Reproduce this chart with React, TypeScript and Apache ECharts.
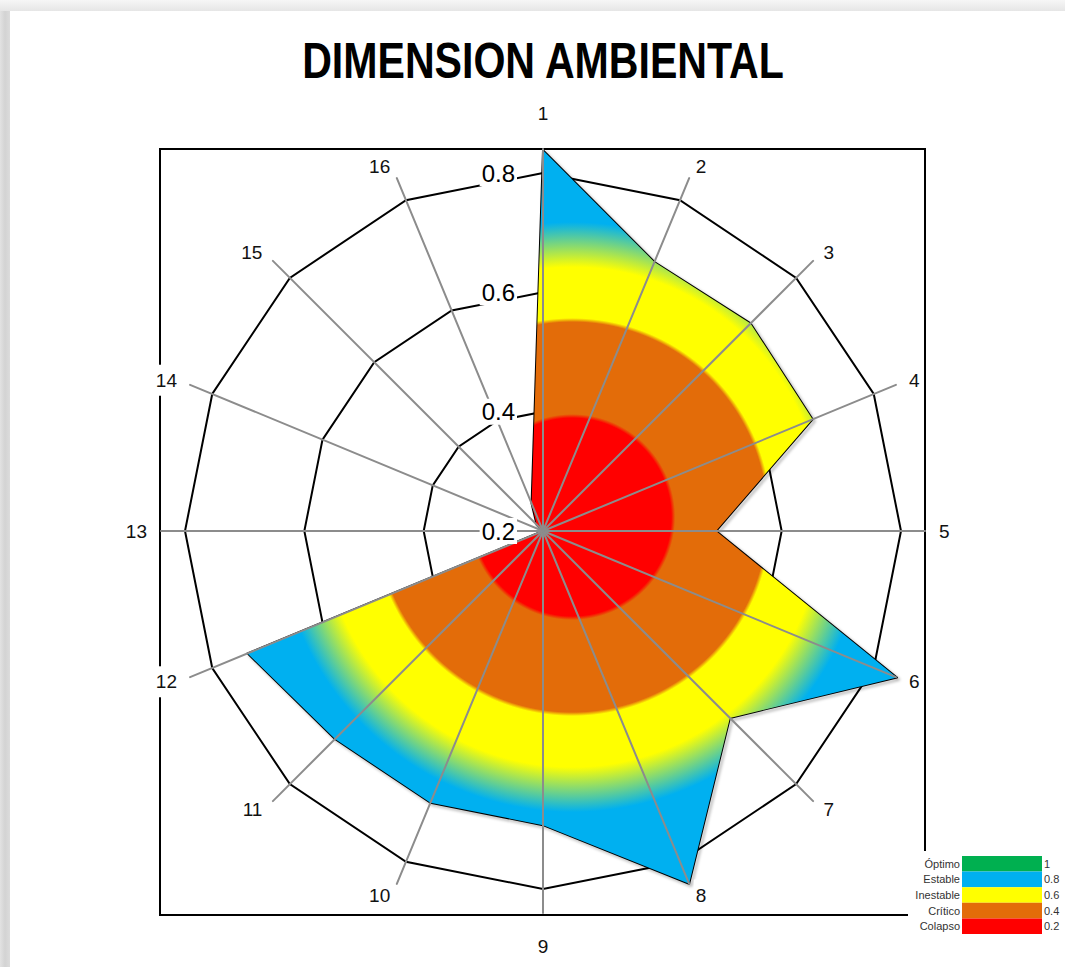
import React, { useEffect, useRef } from 'react';
import * as echarts from 'echarts';

// ---------- data ----------
const TITLE = 'DIMENSION AMBIENTAL';
const categories = ['1', '2', '3', '4', '5', '6', '7', '8', '9', '10', '11', '12', '13', '14', '15', '16'];
const values = [0.838, 0.688, 0.692, 0.689, 0.49, 0.842, 0.643, 0.84, 0.693, 0.693, 0.693, 0.736, 0.2, 0.2, 0.215, 0.25];
const axisMin = 0.2;
const axisMax = 0.8;
const axisStep = 0.2;
const tickLabels = ['0.2', '0.4', '0.6', '0.8'];
const legendLabels = ['Óptimo', 'Estable', 'Inestable', 'Crítico', 'Colapso'];
const legendValues = ['1', '0.8', '0.6', '0.4', '0.2'];
const legendColors = ['#00B050', '#00B0F0', '#FFFF00', '#E36C09', '#FF0000'];

// ---------- layout ----------
const W = 1065;
const H = 967;
const CX = 543;
const CY = 531;
const R = 358; // radius of 0.8 ring
const R_SPOKE = 382;
const TITLE_WIDTH = 483;

const App: React.FC = () => {
  const ref = useRef<HTMLDivElement>(null);

  useEffect(() => {
    if (!ref.current) return;
    const chart = echarts.init(ref.current, undefined, { renderer: 'svg' });
    const N = categories.length;
    // ECharts places indicators counter-clockwise; reorder so that they run clockwise
    const order = categories.map((_, i) => (N - i) % N);

    // gradient centre = centre of the polygon's bounding box
    const pts = values.map((v, k) => {
      const a = (k * 2 * Math.PI) / N;
      const r = ((v - axisMin) / (axisMax - axisMin)) * R;
      return [CX + r * Math.sin(a), CY - r * Math.cos(a)];
    });
    const xs = pts.map((p) => p[0]);
    const ys = pts.map((p) => p[1]);
    const gx = (Math.min(...xs) + Math.max(...xs)) / 2;
    const gy = (Math.min(...ys) + Math.max(...ys)) / 2;
    const GR = 400;
    const stop = (px: number, color: string) => ({ offset: px / GR, color });
    const fill = {
      type: 'radial',
      x: gx,
      y: gy,
      r: GR,
      global: true,
      colorStops: [
        stop(0, legendColors[4]),
        stop(99, legendColors[4]),
        stop(103, legendColors[3]),
        stop(195, legendColors[3]),
        stop(199, legendColors[2]),
        stop(250, legendColors[2]),
        stop(295, legendColors[1]),
        stop(GR, legendColors[1]),
      ],
    };

    const titleFont = "bold 50px 'Liberation Sans'";
    const titleRect = echarts.format.getTextRect
      ? (echarts.format as any).getTextRect(TITLE, titleFont)
      : null;
    const titleW = titleRect && titleRect.width ? titleRect.width : 592;
    const titleScale = TITLE_WIDTH / titleW;

    const off = { show: false };
    const legendTop = 856;
    const rowH = 15.6;
    const graphic: any[] = [
      {
        type: 'rect', z: -10, silent: true,
        shape: { x: 0, y: 0, width: 10, height: H },
        style: { fill: new echarts.graphic.LinearGradient(0, 0, 1, 0, [
          { offset: 0, color: '#e2e2e2' }, { offset: 0.5, color: '#d3d3d3' }, { offset: 1, color: '#dcdcdc' }]) },
      },
      {
        type: 'rect', z: -9, silent: true,
        shape: { x: 0, y: 0, width: W, height: 11 },
        style: { fill: new echarts.graphic.LinearGradient(0, 0, 0, 1, [
          { offset: 0, color: '#f6f6f6' }, { offset: 1, color: '#e6e6e6' }]) },
      },
      {
        type: 'rect', z: -8, silent: true,
        shape: { x: 10, y: 11, width: W - 10, height: H - 11 },
        style: { fill: '#ffffff' },
      },
      {
        type: 'rect', z: 1, silent: true,
        shape: { x: 160, y: 149, width: 765, height: 766 },
        style: { fill: 'none', stroke: '#000', lineWidth: 2 },
      },
      {
        type: 'text', z: 10, x: 543, y: 61, scaleX: titleScale, scaleY: 1,
        style: {
          text: TITLE, fill: '#000', fontSize: 50, fontWeight: 'bold',
          fontFamily: 'Liberation Sans',
          align: 'center', verticalAlign: 'middle',
        },
      },
      {
        type: 'rect', z: 20, silent: true,
        shape: { x: 908, y: 851, width: W - 908, height: 90 },
        style: { fill: '#fff' },
      },
    ];
    legendLabels.forEach((lab, i) => {
      const y = legendTop + i * rowH;
      graphic.push({
        type: 'rect', z: 21,
        shape: { x: 962, y, width: 80, height: rowH },
        style: { fill: legendColors[i] },
      });
      graphic.push({
        type: 'text', z: 21, x: 960, y: y + rowH / 2,
        style: { text: lab, fill: '#333', fontSize: 11, fontFamily: 'Liberation Sans', align: 'right', verticalAlign: 'middle' },
      });
      graphic.push({
        type: 'text', z: 21, x: 1044, y: y + rowH / 2,
        style: { text: legendValues[i], fill: '#333', fontSize: 11, fontFamily: 'Liberation Sans', align: 'left', verticalAlign: 'middle' },
      });
    });

    const option: any = {
      animation: false,
      backgroundColor: '#fff',
      graphic,
      radar: [
        // rings + data coordinate system
        {
          z: 0,
          center: [CX, CY],
          radius: R,
          startAngle: 90,
          shape: 'polygon',
          splitNumber: Math.round((axisMax - axisMin) / axisStep),
          indicator: order.map((k) => ({ name: categories[k], min: axisMin, max: axisMax })),
          axisName: off,
          axisLine: off,
          axisTick: off,
          axisLabel: off,
          splitArea: off,
          splitLine: { show: true, lineStyle: { color: '#000', width: 2 } },
        },
        // spokes + names, drawn above the filled area
        {
          z: 5,
          center: [CX, CY],
          radius: R_SPOKE,
          startAngle: 90,
          shape: 'polygon',
          splitNumber: 1,
          indicator: order.map((k, i) => ({
            name: categories[k],
            min: axisMin,
            max: axisMax,
            nameGap: i === 0 ? 20 : i === N / 2 ? 18 : 12,
          })),
          axisName: {
            show: true, color: '#111', fontSize: 19, fontFamily: 'Liberation Sans',
            backgroundColor: '#fff', padding: [6, 2],
          },
          axisNameGap: 12,
          axisLine: { show: true, lineStyle: { color: '#8c8c8c', width: 2 } },
          axisTick: off,
          axisLabel: off,
          splitArea: off,
          splitLine: off,
        },
        // tick labels on axis 1
        {
          z: 6,
          center: [CX, CY],
          radius: R,
          startAngle: 90,
          shape: 'polygon',
          splitNumber: Math.round((axisMax - axisMin) / axisStep),
          indicator: order.map((k, i) => ({
            name: categories[k], min: axisMin, max: axisMax,
            axisLabel: { show: i === 0 },
          })),
          axisName: off,
          axisLine: off,
          axisTick: off,
          axisLabel: {
            show: false, margin: 26, fontSize: 24, color: '#000', fontFamily: 'Liberation Sans',
            backgroundColor: '#fff', padding: [1, 2],
            showMinLabel: true, showMaxLabel: true,
            formatter: (v: number) => tickLabels[Math.round((v - axisMin) / axisStep)] ?? String(v),
          },
          splitArea: off,
          splitLine: off,
        },
      ],
      series: [
        {
          type: 'radar',
          radarIndex: 0,
          z: 2,
          symbol: 'none',
          silent: true,
          lineStyle: {
            color: '#000', width: 2,
            shadowColor: 'rgba(0,0,0,0.35)', shadowBlur: 3, shadowOffsetX: 2, shadowOffsetY: 2,
          },
          areaStyle: { color: fill, opacity: 1 },
          data: [{ value: order.map((k) => values[k]), name: TITLE }],
        },
      ],
    };
    chart.setOption(option);
    return () => chart.dispose();
  }, []);

  return <div ref={ref} style={{ position: 'absolute', left: 0, top: 0, width: W, height: H }} />;
};

export default App;
